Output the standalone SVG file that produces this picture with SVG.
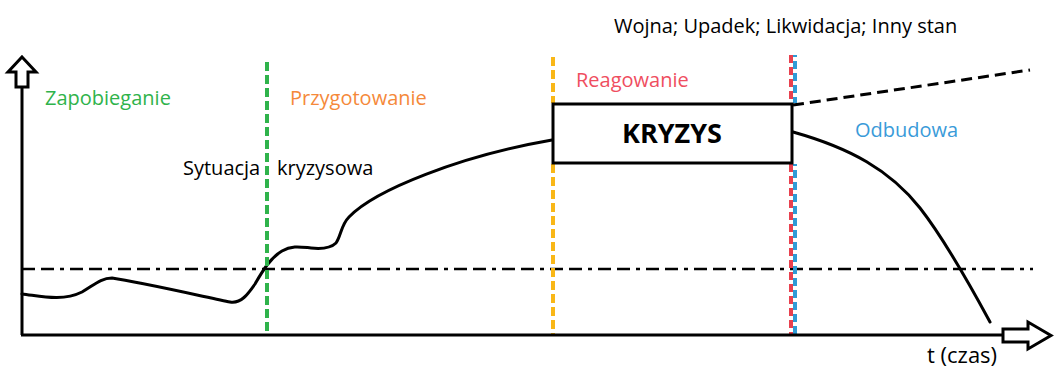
<svg xmlns="http://www.w3.org/2000/svg" width="1054" height="369" viewBox="0 0 1054 369">
<style>
.t{font-family:"Open Sans","DejaVu Sans",sans-serif;font-size:20px}
.curve{fill:none;stroke:#000;stroke-width:3;stroke-linecap:round}
.ax{fill:#fff;stroke:#000;stroke-width:3;stroke-linejoin:miter}
.g{stroke:#2fb34b;stroke-width:4;stroke-dasharray:9 4}
.o{stroke:#f9b717;stroke-width:4;stroke-dasharray:9 4}
.r{stroke:#e8414f;stroke-width:4;stroke-dasharray:8 4}
.b{stroke:#2e9bd6;stroke-width:4;stroke-dasharray:8 4;stroke-dashoffset:6}
</style>
<rect width="1054" height="369" fill="#fff"/>
<g id="connectors">
<line x1="22" y1="269" x2="1033" y2="269" stroke="#000" stroke-width="2.5" stroke-dasharray="13 6 13 6 4 6"/>
<path class="curve" d="M22,294 C40,296 62,302 82,292 C94,285 101,278 112,278 C140,282 210,298 230,302 C241,304 248,294 255,284 C262,272 270,258 282,251 C292,245 301,247 311,248 C321,249 331,248 336,243 C341,236 341,225 349,217 C375,190 460,156 552,140"/>
<path class="curve" d="M793,132 C850,148 890,170 920,208 C945,240 970,285 990,322"/>
<line x1="793" y1="105" x2="1030" y2="70" stroke="#000" stroke-width="3" stroke-dasharray="11 6"/>
</g>
<g id="phase-lines">
<line class="g" x1="267" y1="62" x2="267" y2="335"/>
<line class="o" x1="553" y1="57" x2="553" y2="103"/>
<line class="o" x1="553" y1="164" x2="553" y2="335"/>
<line class="r" x1="791" y1="55" x2="791" y2="103"/>
<line class="r" x1="791" y1="164" x2="791" y2="335"/>
<line class="b" x1="795" y1="55" x2="795" y2="103"/>
<line class="b" x1="795" y1="164" x2="795" y2="335"/>
</g>
<g id="axes">
<line x1="22" y1="86" x2="22" y2="335" stroke="#000" stroke-width="3"/>
<line x1="21" y1="335" x2="1003" y2="335" stroke="#000" stroke-width="3"/>
<polygon class="ax" points="22,57 36,72 28,72 28,87 16,87 16,72 8,72"/>
<polygon class="ax" points="1003,329 1028,329 1028,322 1051,335.5 1028,349 1028,342 1003,342"/>
</g>
<g id="node-kryzys">
<rect x="553" y="104" width="239" height="59" fill="#fff" stroke="#000" stroke-width="3"/>
<text x="672" y="143" text-anchor="middle" font-family="'Open Sans','DejaVu Sans',sans-serif" font-size="27" font-weight="bold">KRYZYS</text>
</g>
<g id="labels">
<text class="t" x="45" y="105" fill="#2fb34b">Zapobieganie</text>
<text class="t" x="290" y="105" fill="#f5893a">Przygotowanie</text>
<text class="t" x="183" y="175" fill="#000">Sytuacja</text>
<text class="t" x="277" y="175" fill="#000">kryzysowa</text>
<text class="t" x="576" y="87" fill="#ef4e5f">Reagowanie</text>
<text class="t" x="855" y="137" fill="#3a9bd9">Odbudowa</text>
<text class="t" x="614" y="33" fill="#000">Wojna; Upadek; Likwidacja; Inny stan</text>
<text class="t" x="927" y="363" fill="#000" style="font-size:22px">t (czas)</text>
</g>
</svg>
